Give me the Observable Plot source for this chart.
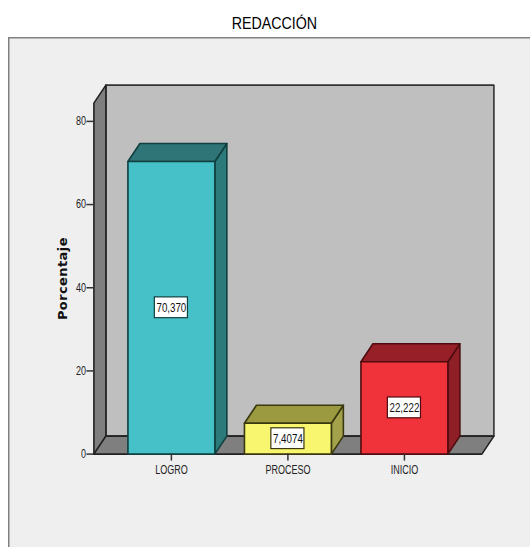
<!DOCTYPE html>
<html lang="es">
<head>
<meta charset="utf-8">
<script src="https://cdn.jsdelivr.net/npm/d3@7"></script>
<script src="https://cdn.jsdelivr.net/npm/@observablehq/plot@0.6"></script>
<style>
  html, body { margin: 0; padding: 0; background: #fff; width: 530px; height: 547px; overflow: hidden; }
  #title { position: absolute; left: 0; top: 0; width: 549px; height: 37px; text-align: center; font: 16px/47px "Liberation Sans", sans-serif; color: #000; transform: scaleX(0.89); transform-origin: 274px 0; }
  #panel { position: absolute; left: 8px; top: 37px; width: 522px; height: 510px; background: #efefef; box-shadow: inset 1.5px 1.5px 0 #808080; }
  #panel svg { display: block; background: transparent; }
</style>
</head>
<body>
<div id="title">REDACCIÓN</div>
<div id="panel"></div>
<script>
// Porcentaje de estudiantes por nivel de logro en redacción
const categories = ["LOGRO", "PROCESO", "INICIO"];
const percentages = [70.370, 7.4074, 22.222];
const labels = ["70,370", "7,4074", "22,222"];
const frontColors = ["#47c1c8", "#f8f56e", "#f0323a"];
const sideColors = ["#2c7a7a", "#a3a24a", "#8f1f26"];
const topColors = ["#2f7578", "#9c9a40", "#961f28"];
const edgeColors = ["#10403f", "#3a3810", "#4f0c10"];
const yTicks = [0, 20, 40, 60, 80];

// Extent of the oblique box, in scale units
const xMin = -0.665, xMax = 2.665, yMax = 84.4;
const depthX = 0.103, depthY = 4.33;
const halfBar = 0.373;
const labelHalfW = 0.142, labelHalfH = 2.5;

// One closed outline per face; the line mark fills each group
const face = (id, fill, stroke, pts) =>
  [...pts, pts[0]].map(([x, y]) => ({id, fill, stroke, x, y}));

const walls = [
  face("back", "#bfbfbf", "#333", [[xMin + depthX, depthY], [xMax + depthX, depthY], [xMax + depthX, yMax + depthY], [xMin + depthX, yMax + depthY]]),
  face("left", "#7f7f7f", "#222", [[xMin, 0], [xMin + depthX, depthY], [xMin + depthX, yMax + depthY], [xMin, yMax]]),
  face("floor", "#7f7f7f", "#222", [[xMin, 0], [xMax, 0], [xMax + depthX, depthY], [xMin + depthX, depthY]])
].flat();

const bars = categories.flatMap((c, i) => {
  const x0 = i - halfBar, x1 = i + halfBar, v = percentages[i], s = edgeColors[i];
  return [
    face(c + "-side", sideColors[i], s, [[x1, 0], [x1 + depthX, depthY], [x1 + depthX, v + depthY], [x1, v]]),
    face(c + "-top", topColors[i], s, [[x0, v], [x1, v], [x1 + depthX, v + depthY], [x0 + depthX, v + depthY]]),
    face(c + "-front", frontColors[i], s, [[x0, 0], [x1, 0], [x1, v], [x0, v]])
  ].flat();
});

const valueBoxes = categories.map((c, i) => ({
  x1: i - labelHalfW, x2: i + labelHalfW,
  y1: percentages[i] / 2 - labelHalfH, y2: percentages[i] / 2 + labelHalfH,
  stroke: edgeColors[i]
}));
const valueLabels = categories.map((c, i) => ({x: i, y: percentages[i] / 2, label: labels[i]}));

const faceMark = (data) => Plot.line(data, {
  x: "x", y: "y", z: "id", fill: "fill", stroke: "stroke",
  strokeWidth: 1.6, curve: "linear", strokeLinejoin: "round"
});

const chart = Plot.plot({
  width: 522,
  height: 510,
  marginLeft: 85.4,
  marginRight: 48.6,
  marginTop: 65.6,
  marginBottom: 93.4,
  style: {background: "transparent", overflow: "visible", fontFamily: '"Liberation Sans", sans-serif', fontSize: "11px", color: "#222"},
  x: {type: "linear", domain: [xMin, xMax]},
  y: {domain: [0, yMax]},
  marks: [
    faceMark(walls),
    faceMark(bars),
    Plot.rect(valueBoxes, {x1: "x1", x2: "x2", y1: "y1", y2: "y2", fill: "white", stroke: "stroke", strokeWidth: 1.2}),
    Plot.text(valueLabels, {x: "x", y: "y", text: "label", fontSize: 13, fill: "#111", className: "narrow"}),
    Plot.axisY({
      ticks: yTicks, tickSize: 7, tickPadding: 1, tickFormat: d => String(d), fontSize: 12,
      label: null, stroke: "#333", strokeWidth: 1.5, className: "narrow"
    }),
    Plot.axisX({
      ticks: [0, 1, 2], tickFormat: i => categories[i], tickSize: 7, tickPadding: 4, fontSize: 12,
      label: null, stroke: "#333", strokeWidth: 1.5, className: "narrow"
    }),
    Plot.text(["Porcentaje"], {
      frameAnchor: "left", dx: -31.4, rotate: -90, textAnchor: "middle", text: d => d,
      fontFamily: '"DejaVu Sans", sans-serif', fontWeight: "bold", fontSize: 13, fill: "#111", className: "spaced"
    })
  ]
});
document.getElementById("panel").appendChild(chart);

// Tighten the chart's small labels and open up the axis title
const condense = 0.75;
chart.querySelectorAll(".narrow text").forEach(t => {
  t.setAttribute("lengthAdjust", "spacingAndGlyphs");
  t.setAttribute("textLength", t.getComputedTextLength() * condense);
});
chart.querySelectorAll(".spaced text").forEach(t => t.setAttribute("letter-spacing", "0.4"));
</script>
</body>
</html>
